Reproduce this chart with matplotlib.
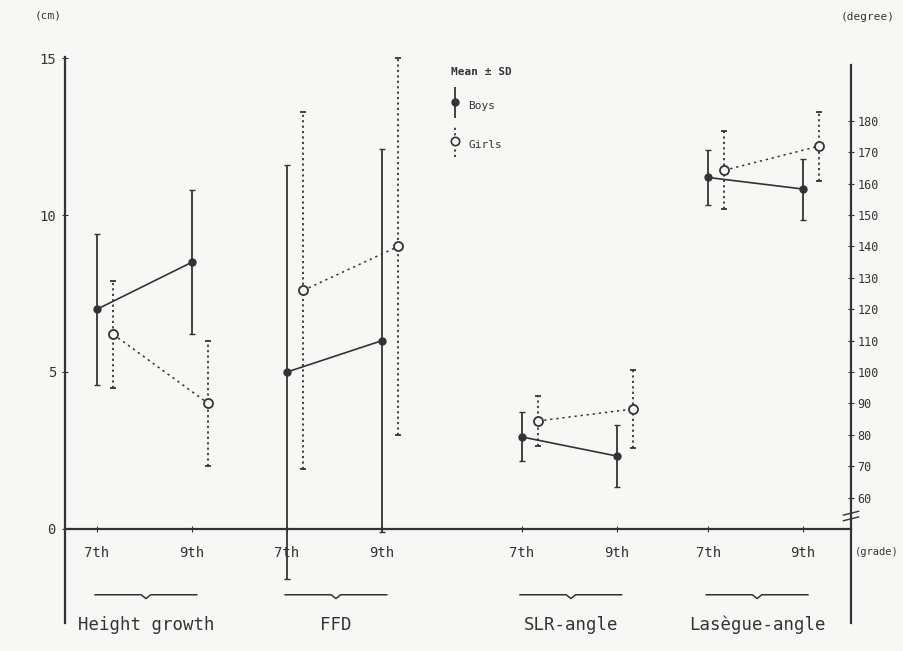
import numpy as np
import matplotlib
matplotlib.use("Agg")
import matplotlib.pyplot as plt
from matplotlib.container import ErrorbarContainer
from matplotlib.legend_handler import HandlerErrorbar

plt.rcParams['font.family'] = ['DejaVu Sans Mono']

groups = ['Height growth', 'FFD', 'SLR-angle', 'Lasègue-angle']
grades = ['7th', '9th']

# height growth and FFD in cm (left axis)
hg_boys = [7.0, 8.5]
hg_boys_sd = [2.4, 2.3]
hg_girls = [6.2, 4.0]
hg_girls_sd = [1.7, 2.0]
ffd_boys = [5.0, 6.0]
ffd_boys_sd = [6.6, 6.1]
ffd_girls = [7.6, 9.0]
ffd_girls_sd = [5.7, 6.0]

# SLR and Lasegue angle in degree (right axis)
slr_boys = [79.3, 73.2]
slr_boys_sd = [7.8, 10.0]
slr_girls = [84.4, 88.2]
slr_girls_sd = [8.0, 12.4]
las_boys = [162.0, 158.3]
las_boys_sd = [8.8, 9.7]
las_girls = [164.3, 172.0]
las_girls_sd = [12.5, 11.0]

deg_ticks = [60, 70, 80, 90, 100, 110, 120, 130, 140, 150, 160, 170, 180]
cm_ticks = [0, 5, 10, 15]

ink = '#333333'
bg = '#f7f7f5'

# layout: where each group's 7th grade sits on the x scale
group_x = [0.337, 2.337, 4.81, 6.77]
girl_shift = 0.17
ylo, yhi = -3.0, 15.03

fig = plt.figure(figsize=(9.04, 6.51), dpi=100, facecolor=bg)
ax = fig.add_axes([65/904, 0.043, 786/904, 0.869])
ax.set_facecolor(bg)
ax.set_xlim(0, 786/95)
ax.set_ylim(ylo, yhi)
ax2 = ax.twinx()
ax2.set_ylim(50 + 10*ylo, 50 + 10*yhi)

def draw(a, gi, boys, bsd, girls, gsd):
    xb = group_x[gi] + np.arange(2)
    xg = xb + girl_shift
    a.errorbar(xb, boys, yerr=bsd, color=ink, lw=1.2, marker='o', ms=5,
               capsize=2.5, elinewidth=1.3, zorder=3, clip_on=False)
    eg = a.errorbar(xg, girls, yerr=gsd, color=ink, lw=1.1, ls=(0, (1.5, 2.5)),
                    marker='o', ms=6.5, mfc=bg, mew=1.3, capsize=2,
                    elinewidth=1.3, zorder=3, clip_on=False)
    eg[2][0].set_linestyle((0, (1.2, 1.8)))

draw(ax, 0, hg_boys, hg_boys_sd, hg_girls, hg_girls_sd)
draw(ax, 1, ffd_boys, ffd_boys_sd, ffd_girls, ffd_girls_sd)
draw(ax2, 2, slr_boys, slr_boys_sd, slr_girls, slr_girls_sd)
draw(ax2, 3, las_boys, las_boys_sd, las_girls, las_girls_sd)

# spines
ax.spines['top'].set_visible(False)
ax2.spines['top'].set_visible(False)
ax.spines['right'].set_visible(False)
ax2.spines['left'].set_visible(False)
ax2.spines['bottom'].set_visible(False)
ax.spines['bottom'].set_position(('data', 0))
ax.spines['left'].set_bounds(ylo, yhi)
ax2.spines['right'].set_bounds(50 + 10*ylo, 50 + 10*14.78)
for sp in [ax.spines['left'], ax.spines['bottom'], ax2.spines['right']]:
    sp.set_color(ink)
    sp.set_linewidth(1.6)

ax.set_yticks(cm_ticks)
ax.set_yticklabels([str(t) for t in cm_ticks], fontsize=10, color=ink)
ax.tick_params(axis='y', direction='inout', length=5, color=ink, pad=4)
ax2.set_yticks(deg_ticks)
ax2.set_yticklabels([str(t) for t in deg_ticks], fontsize=8.5, color=ink)
ax2.tick_params(axis='y', direction='inout', length=5, color=ink, pad=2)

xt = []
for g in group_x:
    xt += [g, g + 1]
ax.set_xticks(xt)
ax.set_xticklabels(grades * len(groups), fontsize=10, color=ink)
ax.tick_params(axis='x', direction='inout', length=4, color=ink, pad=10)

# braces and group names
for g, name in zip(group_x, groups):
    x0, x1 = g - 0.02, g + 1.05
    xm = (x0 + x1) / 2
    ax.plot([x0, xm - 0.05, xm, xm + 0.05, x1], [-2.1, -2.1, -2.22, -2.1, -2.1],
            color=ink, lw=1.1, clip_on=False)
    ax.text(xm, -3.05, name, ha='center', va='center', fontsize=12.5,
            color=ink, clip_on=False)

# axis break mark on right axis
xr = 786/95
for dy in [0.32, 0.5]:
    ax.plot([xr - 0.08, xr + 0.08], [dy - 0.06, dy + 0.06], color=ink, lw=1.0,
            clip_on=False)

ax.text(-0.18, 16.37, '(cm)', ha='center', va='center', fontsize=8, color=ink)
ax.text(xr + 0.17, 16.3, '(degree)', ha='center', va='center', fontsize=8,
        color=ink, clip_on=False)
ax.text(xr + 0.04, -0.73, '(grade)', ha='left', va='center', fontsize=7.5,
        color=ink, clip_on=False)

# legend
hb = ax.errorbar([], [], yerr=[], color=ink, ls='none', marker='o', ms=5,
                 capsize=2, elinewidth=1.3)
hg = ax.errorbar([], [], yerr=[], color=ink, ls='none', marker='o', ms=6,
                 mfc=bg, mew=1.2, capsize=2, elinewidth=1.3)
hg[2][0].set_linestyle((0, (1.2, 1.8)))
leg = ax.legend([hb, hg], ['Boys', 'Girls'], title='Mean ± SD', loc='upper left',
                bbox_to_anchor=(0.478, 1.0), frameon=False, fontsize=8,
                title_fontsize=8, handlelength=0.8, handleheight=2.6,
                labelspacing=1.6, alignment='left', handletextpad=0.8,
                handler_map={ErrorbarContainer: HandlerErrorbar(yerr_size=1.4)})
for t in leg.get_texts():
    t.set_color(ink)
leg.get_title().set_color(ink)
leg.get_title().set_fontweight('bold')

fig.savefig('out.png', dpi=100, facecolor=bg)
